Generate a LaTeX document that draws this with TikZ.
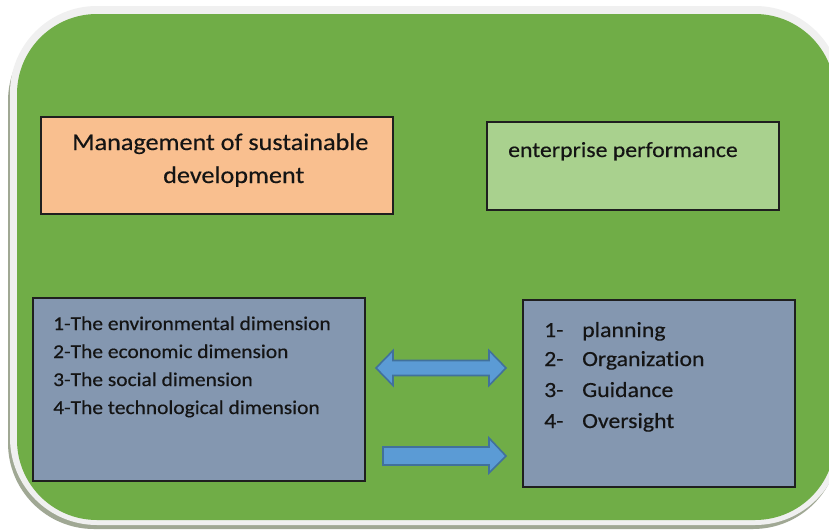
\documentclass[tikz,border=0pt]{standalone}
\usepackage{fontspec}
\setmainfont{Carlito}[FakeStretch=1.1, FakeBold=0.4, Ligatures=NoCommon]
\definecolor{bggreen}{RGB}{112,173,71}
\definecolor{rimgrey}{RGB}{240,240,240}
\definecolor{shadowgrey}{RGB}{160,168,148}
\definecolor{orangefill}{RGB}{249,191,143}
\definecolor{lightgreen}{RGB}{169,209,142}
\definecolor{bluegrey}{RGB}{132,151,176}
\definecolor{arrowfill}{RGB}{91,155,213}
\definecolor{arrowline}{RGB}{65,113,156}
\tikzset{
  box/.style={draw=black!88, line width=1.3pt, inner sep=0pt},
  txt/.style={anchor=base west, inner sep=0pt, text=black!92},
  bigtxt/.style={txt, font=\fontsize{23.8}{28}\selectfont},
  midtxt/.style={txt, font=\fontsize{21.6}{26}\selectfont},
  smalltxt/.style={txt, font=\fontsize{19.5}{24}\selectfont},
  blockarrow/.style={fill=arrowfill, draw=arrowline, line width=1.6pt, line join=miter},
}
\begin{document}
\begin{tikzpicture}[x=1pt,y=-1pt]
\useasboundingbox (0,0) rectangle (829,530);
\fill[white] (0,0) rectangle (829,530);
\clip (0,0) rectangle (829,530);
% background panel
\fill[shadowgrey, rounded corners=86pt] (8,15) rectangle (839,529);
\fill[rimgrey, rounded corners=87pt] (10,6) rectangle (842,525);
\fill[bggreen, rounded corners=80pt] (17,14) rectangle (835,520);

% boxes
\node[box, fill=orangefill, minimum width=352pt, minimum height=97pt] (msd) at (217,165.5) {};
\node[box, fill=lightgreen, minimum width=292pt, minimum height=88pt] (ep) at (633,166) {};
\node[box, fill=bluegrey, minimum width=332pt, minimum height=183pt] (dims) at (199,389.5) {};
\node[box, fill=bluegrey, minimum width=272pt, minimum height=187pt] (funcs) at (659,393.5) {};

% texts
\node[bigtxt] (t1) at (72,150) {Management of sustainable};
\node[bigtxt] (t2) at (163,183) {development};
\node[midtxt] (t3) at (508,157) {enterprise performance};

\node[smalltxt] (d1) at (53,330) {1-The environmental dimension};
\node[smalltxt] (d2) at (53,358) {2-The economic dimension};
\node[smalltxt] (d3) at (53,386) {3-The social dimension};
\node[smalltxt] (d4) at (53,414) {4-The technological dimension};

\node[midtxt] (n1) at (544,337) {1-};
\node[midtxt] (n2) at (544,366) {2-};
\node[midtxt] (n3) at (544,397) {3-};
\node[midtxt] (n4) at (544,428) {4-};
\node[midtxt] (f1) at (582,337) {planning};
\node[midtxt] (f2) at (582,366) {Organization};
\node[midtxt] (f3) at (582,397) {Guidance};
\node[midtxt] (f4) at (582,428) {Oversight};

% block arrows
\draw[blockarrow] (376,368) -- (393,350.5) -- (393,360.5) -- (489,360.5) -- (489,350.5)
  -- (506,368) -- (489,385.5) -- (489,375.5) -- (393,375.5) -- (393,385.5) -- cycle;
\draw[blockarrow] (383,447) -- (489,447) -- (489,438) -- (506,456) -- (489,473)
  -- (489,465) -- (383,465) -- cycle;
\end{tikzpicture}
\end{document}
